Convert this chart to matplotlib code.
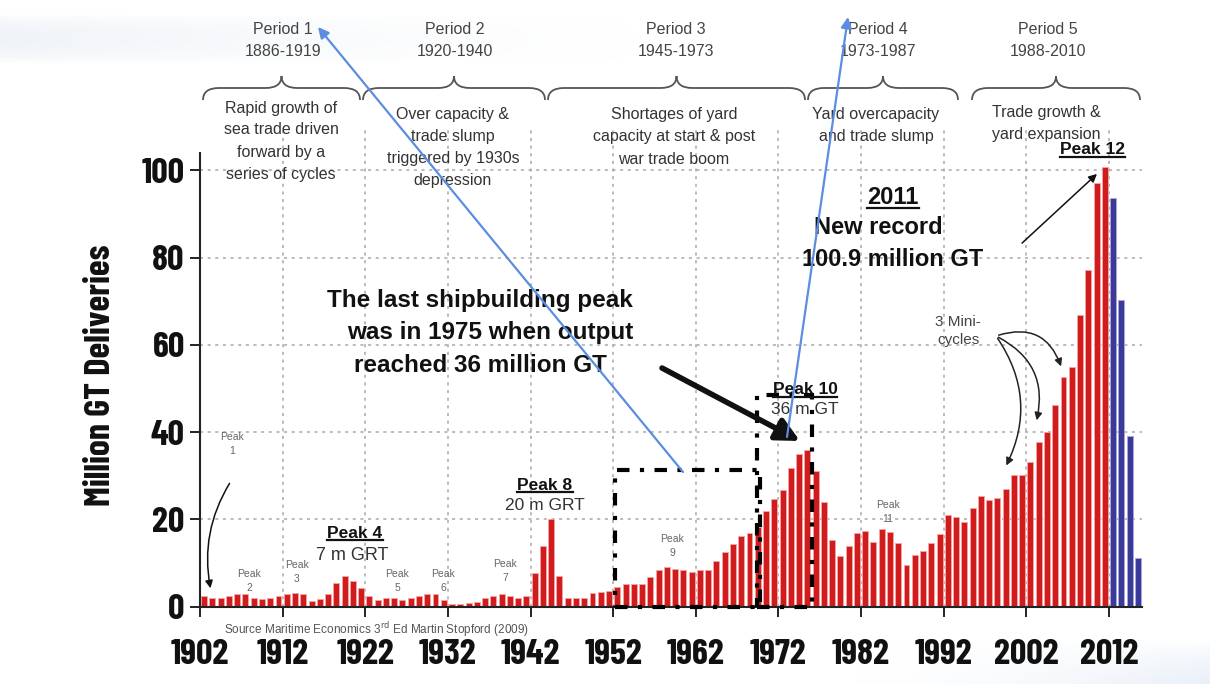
import numpy as np
import matplotlib
matplotlib.use('Agg')
import matplotlib.pyplot as plt
from matplotlib.patches import Rectangle, PathPatch
from matplotlib.path import Path
from matplotlib.lines import Line2D

W, H = 1210, 684
NARROW = ['Barlow Condensed', 'Liberation Sans', 'DejaVu Sans']
SANS = ['Liberation Sans', 'DejaVu Sans']
plt.rcParams['font.family'] = SANS

# World shipbuilding deliveries, million GT (GRT for the early years)
built_years = list(range(1902, 2012))
built_gt = [
    2.5, 2.1, 1.9, 2.5, 2.8, 2.8, 2.0, 1.8, 1.9, 2.5,        # 1902-1911
    2.9, 3.2, 2.8, 1.3, 1.8, 2.9, 5.4, 7.0, 5.9, 4.2,        # 1912-1921
    2.5, 1.5, 2.1, 2.1, 1.5, 2.1, 2.5, 2.8, 2.8, 1.5,        # 1922-1931
    0.7, 0.6, 0.8, 1.1, 2.1, 2.5, 2.8, 2.5, 1.9, 2.5,        # 1932-1941
    7.8, 13.9, 20.0, 7.0, 1.9, 1.9, 2.1, 3.1, 3.4, 3.5,      # 1942-1951
    4.6, 5.1, 5.1, 5.1, 6.7, 8.4, 9.1, 8.7, 8.5, 7.9,        # 1952-1961
    8.5, 8.5, 10.5, 12.5, 14.4, 16.1, 17.0, 18.2, 21.9, 24.8,  # 1962-1971
    26.7, 31.7, 34.9, 36.0, 31.2, 24.1, 15.2, 11.7, 13.9, 17.0,  # 1972-1981
    17.3, 14.9, 17.8, 17.2, 14.6, 9.5, 11.8, 12.7, 14.6, 16.7,   # 1982-1991
    21.0, 20.5, 19.4, 22.6, 25.3, 24.5, 25.0, 26.9, 30.2, 30.2,  # 1992-2001
    33.2, 37.8, 40.1, 46.2, 52.7, 55.0, 66.8, 77.1, 97.1, 100.9,  # 2002-2011
]
# orderbook scheduled for delivery
order_years = [2012, 2013, 2014, 2015]
order_gt = [93.7, 70.2, 39.1, 11.1]

tick_years = list(range(1902, 2013, 10))
y_ticks = [0, 20, 40, 60, 80, 100]

period_names = ['Period 1', 'Period 2', 'Period 3', 'Period 4', 'Period 5']
period_spans = ['1886-1919', '1920-1940', '1945-1973', '1973-1987', '1988-2010']
period_notes = [
    ['Rapid growth of', 'sea trade driven', 'forward by a', 'series of cycles'],
    ['Over capacity &', 'trade slump', 'triggered by 1930s', 'depression'],
    ['Shortages of yard', 'capacity at start & post', 'war trade boom'],
    ['Yard overcapacity', 'and trade slump'],
    ['Trade growth &', 'yard expansion'],
]

fig = plt.figure(figsize=(W / 100, H / 100), dpi=100)

# faint slide background swooshes
bg = fig.add_axes([0, 0, 1, 1], zorder=-2)
fade = np.linspace(1, 0, 256) ** 1.5
ramp = np.linspace(0, 1, 32)[:, None]
top_band = np.zeros((32, 256, 4))
top_band[..., :3] = [0.90, 0.925, 0.955]
top_band[..., 3] = 0.6 * fade[None, :] * np.sin(np.pi * ramp) ** 0.6
bg.imshow(top_band, extent=(0, 660, 64, 14), aspect='auto', interpolation='bilinear')
low_band = np.zeros((32, 256, 4))
low_band[..., :3] = [0.86, 0.905, 0.96]
low_band[..., 3] = 0.6 * fade[None, ::-1] * ramp ** 0.7
bg.imshow(low_band, extent=(840, 1210, 684, 640), aspect='auto', interpolation='bilinear')
bg.set_xlim(0, W)
bg.set_ylim(H, 0)
bg.axis('off')

# main bar chart
y0_px, ytop_px = 606.7, 153
ax = fig.add_axes([200 / W, 1 - y0_px / H, 942 / W, (y0_px - ytop_px) / H])
ax.patch.set_alpha(0)
ax.bar(np.array(built_years) + 0.5, built_gt, width=0.72, color='#d01c1c',
       edgecolor='#f3a5a5', linewidth=0.6, zorder=2)
ax.bar(np.array(order_years) + 0.5, order_gt, width=0.72, color='#3b3a98',
       edgecolor='#a9a9dc', linewidth=0.6, zorder=2)
ax.set_xlim(1902, 2016)
ax.set_ylim(0, 104)

grid_kw = dict(color='#a8a8a8', linestyle=(0, (2, 3)), linewidth=1.1, zorder=1)
ax.hlines(y_ticks[1:], 1902, 2016, **grid_kw)
ax.vlines(tick_years[1:], 0, 110, clip_on=False, **grid_kw)

ax.set_xticks(tick_years)
ax.set_xticklabels([str(y) for y in tick_years], fontsize=26,
                   fontweight='bold', family=NARROW)
ax.set_yticks(y_ticks)
ax.set_yticklabels([str(v) for v in y_ticks], fontsize=26,
                   fontweight='bold', family=NARROW)
ax.tick_params(axis='x', length=7, width=1.3, pad=16, colors='#111')
ax.tick_params(axis='y', length=7, width=1.3, pad=4, colors='#111')
for s in ['top', 'right']:
    ax.spines[s].set_visible(False)
for s in ['left', 'bottom']:
    ax.spines[s].set_linewidth(1.5)
    ax.spines[s].set_color('#222')

# dash-dot boxes around the 1950s-60s build-up and the 1975 peak
dd = (0, (3, 2.5, 1, 2.5))
ax.add_patch(Rectangle((1952.2, 0), 17.6, 31.3, fill=False, edgecolor='black',
                       linewidth=3, linestyle=dd, zorder=4, clip_on=False))
ax.add_patch(Rectangle((1969.4, 0), 6.7, 48.5, fill=False, edgecolor='black',
                       linewidth=3, linestyle=dd, zorder=4, clip_on=False))

# overlay in pixel coordinates for the annotations
ov = fig.add_axes([0, 0, 1, 1], zorder=5)
ov.set_xlim(0, W)
ov.set_ylim(H, 0)
ov.axis('off')
ov.patch.set_alpha(0)


def brace(x0, x1, ytip=76, yend=100):
    xm = (x0 + x1) / 2
    ym = (ytip + yend) / 2
    q = min(16, (x1 - x0) / 8)
    verts = [(x0, yend), (x0, ym), (x0 + q, ym), (xm - q, ym), (xm, ym), (xm, ytip),
             (xm, ym), (xm + q, ym), (x1 - q, ym), (x1, ym), (x1, yend)]
    codes = [Path.MOVETO, Path.CURVE3, Path.CURVE3, Path.LINETO, Path.CURVE3, Path.CURVE3,
             Path.CURVE3, Path.CURVE3, Path.LINETO, Path.CURVE3, Path.CURVE3]
    ov.add_patch(PathPatch(Path(verts, codes), facecolor='none',
                           edgecolor='#555555', linewidth=1.3))


period_x = [283, 455, 676, 878, 1048]
brace_spans = [(203, 360), (363, 545), (548, 805), (808, 958), (972, 1140)]
note_top = [108, 115, 115, 115, 112]
for name, span, notes, x, (b0, b1), yt in zip(period_names, period_spans, period_notes,
                                               period_x, brace_spans, note_top):
    ov.text(x, 30, name, ha='center', va='center', fontsize=11.5, color='#444')
    ov.text(x, 51, span, ha='center', va='center', fontsize=11.5, color='#444')
    brace(b0, b1)
    for i, line in enumerate(notes):
        ov.text(x - 2, yt + 22 * i, line, ha='center', va='center',
                fontsize=11.5, color='#333')

underlined = []


def label(x, y, s, size, bold=False, color='#111', underline=False):
    t = ov.text(x, y, s, ha='center', va='center', fontsize=size,
                fontweight='bold' if bold else 'normal', color=color)
    if underline:
        underlined.append(t)
    return t


# major peaks
label(1092, 150, 'Peak 12', 12.5, bold=True, underline=True)
label(893, 197, '2011', 17, bold=True, underline=True)
label(878, 228, 'New record', 17, bold=True)
label(893, 260, '100.9 million GT', 17, bold=True)
ov.annotate('', xy=(1099, 172), xytext=(1020, 245),
            arrowprops=dict(arrowstyle='-|>', color='#111', lw=1.1, mutation_scale=12))

label(480, 300, 'The last shipbuilding peak', 17.5, bold=True)
label(490, 333, 'was in 1975 when output', 17.5, bold=True)
label(480, 366, 'reached 36 million GT', 17.5, bold=True)
ov.annotate('', xy=(800, 441), xytext=(662, 368),
            arrowprops=dict(arrowstyle='-|>,head_length=0.7,head_width=0.35',
                            color='#111', lw=4, mutation_scale=20,
                            shrinkA=0, shrinkB=0))

label(805, 390, 'Peak 10', 12.5, bold=True, underline=True)
label(805, 410, '36 m GT', 12.5, color='#333')
label(545, 485, 'Peak 8', 12.5, bold=True, underline=True)
label(545, 506, '20 m GRT', 12.5, color='#333')
label(355, 533, 'Peak 4', 12.5, bold=True, underline=True)
label(352, 555, '7 m GRT', 13, color='#333')

# minor peaks
minor_peaks = [('Peak\n1', 232, 444), ('Peak\n2', 249, 581), ('Peak\n3', 297, 572),
               ('Peak\n5', 397, 581), ('Peak\n6', 443, 581), ('Peak\n7', 505, 571),
               ('Peak\n9', 672, 546), ('Peak\n11', 888, 512)]
for s, x, y in minor_peaks:
    ov.text(x, y, s, ha='center', va='center', fontsize=7.5, color='#666',
            linespacing=1.5)
ov.annotate('', xy=(211, 591), xytext=(231, 481),
            arrowprops=dict(arrowstyle='-|>', color='#111', lw=1.1, mutation_scale=11,
                            connectionstyle='arc3,rad=0.2'))

ov.text(958, 331, '3 Mini-\ncycles', ha='center', va='center', fontsize=11,
        color='#444', linespacing=1.35)
for end, rad in [((1005, 468), -0.3), ((1036, 423), -0.4), ((1062, 369), -0.5)]:
    ov.annotate('', xy=end, xytext=(996, 336),
                arrowprops=dict(arrowstyle='-|>', color='#222', lw=1.1,
                                mutation_scale=11, connectionstyle=f'arc3,rad={rad}'))

ov.text(224, 630, r'Source Maritime Economics 3$^{\rm rd}$ Ed Martin Stopford (2009)',
        ha='left', va='center', fontsize=8.5, color='#555')

ov.text(101, 375, 'Million GT Deliveries', ha='center', va='center', rotation=90,
        fontsize=26, fontweight='bold', color='#111', family=NARROW)

# blue pointer lines drawn over the slide
for start, end in [((683, 472), (318, 27)), ((787, 437), (848, 17))]:
    ov.annotate('', xy=end, xytext=start,
                arrowprops=dict(arrowstyle='-|>', color='#5b8de0', lw=1.6,
                                mutation_scale=16, shrinkA=0, shrinkB=0))

# underline the headline labels
fig.canvas.draw()
for t in underlined:
    bb = t.get_window_extent()
    fig.add_artist(Line2D([bb.x0, bb.x1], [bb.y0 + 1, bb.y0 + 1], transform=None,
                          color='#111', linewidth=1.6))

fig.savefig('out.png', dpi=100)
